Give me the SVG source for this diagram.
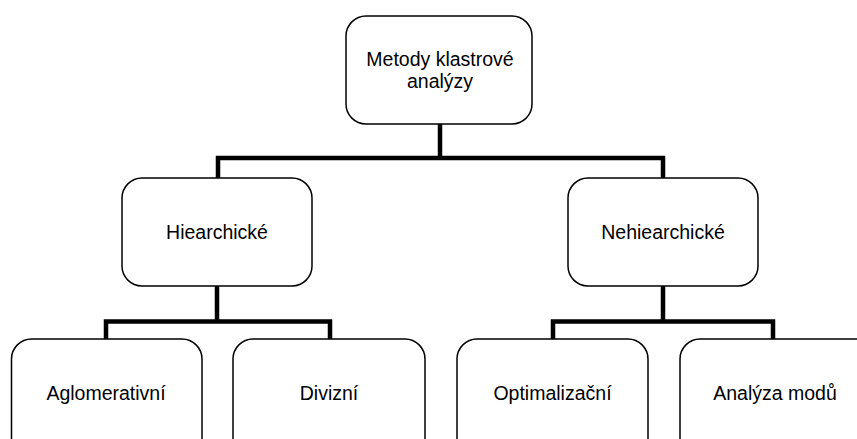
<svg xmlns="http://www.w3.org/2000/svg" width="857" height="439" viewBox="0 0 857 439">
<style>
.box{fill:#fff;stroke:#000;stroke-width:1.5}
.lbl{font-family:"Liberation Sans",Arial,sans-serif;font-size:19.5px;fill:#000;text-anchor:middle}
.con{fill:none;stroke:#000;stroke-width:4.5;stroke-linejoin:miter;stroke-linecap:butt}
</style>
<rect width="857" height="439" fill="#fff"/>
<g id="connectors">
<path class="con" d="M440,124V158M218,178V158H663V178"/>
<path class="con" d="M217,286V321.5M106,339V321.5H330V339"/>
<path class="con" d="M663,286V321.5M553,339V321.5H773V339"/>
</g>
<g id="root">
<rect class="box" x="346" y="16" width="186" height="108" rx="20"/>
<text class="lbl" x="440" y="66">Metody klastrové</text>
<text class="lbl" x="440" y="88">analýzy</text>
</g>
<g id="hier">
<rect class="box" x="122" y="178" width="190" height="108" rx="20"/>
<text class="lbl" x="217" y="239">Hiearchické</text>
</g>
<g id="nehier">
<rect class="box" x="568" y="178" width="190" height="108" rx="20"/>
<text class="lbl" x="663" y="239">Nehiearchické</text>
</g>
<g id="aglo">
<rect class="box" x="11.5" y="339" width="190.5" height="130" rx="20"/>
<text class="lbl" x="106" y="400">Aglomerativní</text>
</g>
<g id="div">
<rect class="box" x="233" y="339" width="192" height="130" rx="20"/>
<text class="lbl" x="329" y="400">Divizní</text>
</g>
<g id="opt">
<rect class="box" x="457" y="339" width="191" height="130" rx="20"/>
<text class="lbl" x="552.5" y="400">Optimalizační</text>
</g>
<g id="mod">
<rect class="box" x="680" y="339" width="200" height="130" rx="20"/>
<text class="lbl" x="775" y="400">Analýza modů</text>
</g>
</svg>
